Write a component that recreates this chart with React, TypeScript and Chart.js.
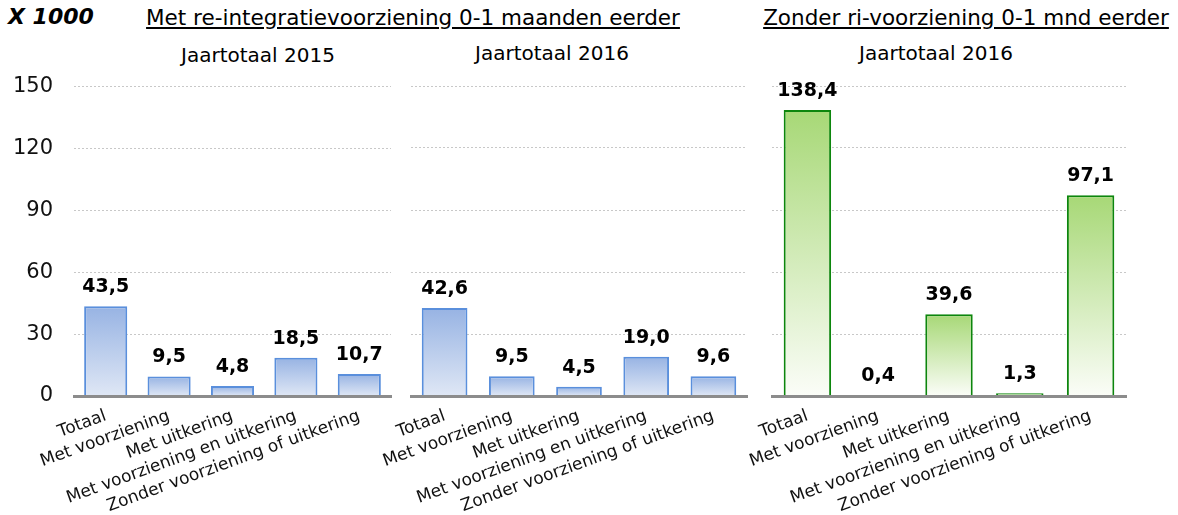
import React, { useEffect, useRef } from 'react';
import { Chart, registerables } from 'chart.js';

Chart.register(...registerables);

const categories = [
  'Totaal',
  'Met voorziening',
  'Met uitkering',
  'Met voorziening en uitkering',
  'Zonder voorziening of uitkering',
];
const metRi2015 = [43.5, 9.5, 4.8, 18.5, 10.7];
const metRi2016 = [42.6, 9.5, 4.5, 19.0, 9.6];
const zonderRi2016 = [138.4, 0.4, 39.6, 1.3, 97.1];
const yTicks = [0, 30, 60, 90, 120, 150];

const FONT = '"DejaVu Sans", Verdana, sans-serif';

const fmt = (v: number) => v.toFixed(1).replace('.', ',');

const valueLabels = {
  id: 'valueLabels',
  afterDatasetsDraw(chart: any) {
    const ctx = chart.ctx;
    const meta = chart.getDatasetMeta(0);
    const data = chart.data.datasets[0].data as number[];
    ctx.save();
    ctx.font = `bold 19px ${FONT}`;
    ctx.fillStyle = '#000';
    ctx.textAlign = 'center';
    ctx.textBaseline = 'alphabetic';
    meta.data.forEach((bar: any, i: number) => {
      ctx.fillText(fmt(data[i]), bar.x, bar.y - 14);
    });
    ctx.restore();
  },
};

type PanelProps = {
  values: number[];
  left: number;
  width: number;
  canvasTop: number;
  padTop: number;
  yWidth: number;
  padRight: number;
  showY: boolean;
  top: string;
  bottom: string;
  border: string;
  barPct: number;
};

function Panel(p: PanelProps) {
  const ref = useRef<HTMLCanvasElement>(null);
  const height = 515 - p.canvasTop;
  useEffect(() => {
    if (!ref.current) return;
    const grad = (c: any) => {
      const chart = c.chart;
      if (!chart.chartArea || c.type !== 'data' || !chart.scales.y) return p.top;
      const y = chart.scales.y;
      const yTop = y.getPixelForValue(c.raw);
      const yBot = y.getPixelForValue(0);
      if (yBot - yTop < 1) return p.top;
      const g = chart.ctx.createLinearGradient(0, yTop, 0, yBot);
      g.addColorStop(0, p.top);
      g.addColorStop(1, p.bottom);
      return g;
    };
    const chart = new Chart(ref.current, {
      type: 'bar',
      data: {
        labels: categories,
        datasets: [
          {
            data: p.values,
            backgroundColor: grad,
            borderColor: p.border,
            borderWidth: 2,
            borderSkipped: 'bottom',
            barPercentage: p.barPct,
            categoryPercentage: 1,
          },
        ],
      },
      options: {
        animation: false,
        responsive: false,
        devicePixelRatio: 1,
        layout: { padding: { top: p.padTop, right: p.padRight, left: 0, bottom: 0 } },
        plugins: { legend: { display: false }, tooltip: { enabled: false } },
        scales: {
          x: {
            grid: { display: false },
            border: { display: true, color: '#8c8c8c', width: 3, z: 1 },
            ticks: {
              autoSkip: false,
              minRotation: 20,
              maxRotation: 20,
              padding: 2,
              color: '#111',
              font: { family: FONT, size: 17 },
            },
            afterFit: (s: any) => {
              s.height = 119;
            },
          },
          y: {
            min: 0,
            max: 150,
            afterBuildTicks: (s: any) => {
              s.ticks = yTicks.map((v) => ({ value: v }));
            },
            grid: { color: '#c8c8c8', lineWidth: 1, drawTicks: false },
            border: { display: false, dash: [2, 2] },
            ticks: {
              display: p.showY,
              padding: 21,
              color: '#111',
              font: { family: FONT, size: 21 },
              callback: (v: any) => String(v),
            },
            afterFit: (s: any) => {
              s.width = p.yWidth;
            },
          },
        },
      },
      plugins: [valueLabels],
    } as any);
    return () => chart.destroy();
  }, []);
  return (
    <canvas
      ref={ref}
      width={p.width}
      height={height}
      style={{ position: 'absolute', left: p.left, top: p.canvasTop, width: p.width, height }}
    />
  );
}

const centered = (cx: number, top: number, extra: any) => ({
  position: 'absolute' as const,
  left: cx,
  top,
  transform: 'translateX(-50%)',
  whiteSpace: 'nowrap' as const,
  lineHeight: 1,
  color: '#000',
  ...extra,
});

export default function App() {
  const blue = { top: '#97b3e3', bottom: '#dfe7f5', border: '#5a8fdc' };
  const green = { top: '#a7d876', bottom: '#fbfdf8', border: '#0d860d' };
  return (
    <div
      style={{
        position: 'absolute',
        left: 0,
        top: 0,
        width: 1178,
        height: 515,
        background: '#fff',
        fontFamily: FONT,
        overflow: 'hidden',
      }}
    >
      <div style={{ position: 'absolute', left: 8, top: 6, fontSize: 22, fontWeight: 'bold', fontStyle: 'italic', lineHeight: 1 }}>
        X 1000
      </div>
      <div style={centered(413, 7, { fontSize: 21.5, textDecoration: 'underline' })}>
        Met re-integratievoorziening 0-1 maanden eerder
      </div>
      <div style={centered(966, 7, { fontSize: 21.5, textDecoration: 'underline' })}>
        Zonder ri-voorziening 0-1 mnd eerder
      </div>
      <div style={centered(258, 45, { fontSize: 20 })}>Jaartotaal 2015</div>
      <div style={centered(552, 43, { fontSize: 20 })}>Jaartotaal 2016</div>
      <div style={centered(936, 43, { fontSize: 20 })}>Jaartotaal 2016</div>

      <Panel values={metRi2015} left={0} width={400} canvasTop={53} padTop={0} yWidth={74} padRight={9} showY={true} barPct={0.68} {...blue} />
      <Panel values={metRi2016} left={370} width={390} canvasTop={70} padTop={16} yWidth={41} padRight={13} showY={false} barPct={0.68} {...blue} />
      <Panel values={zonderRi2016} left={740} width={438} canvasTop={70} padTop={16} yWidth={32} padRight={52} showY={false} barPct={0.67} {...green} />
    </div>
  );
}
